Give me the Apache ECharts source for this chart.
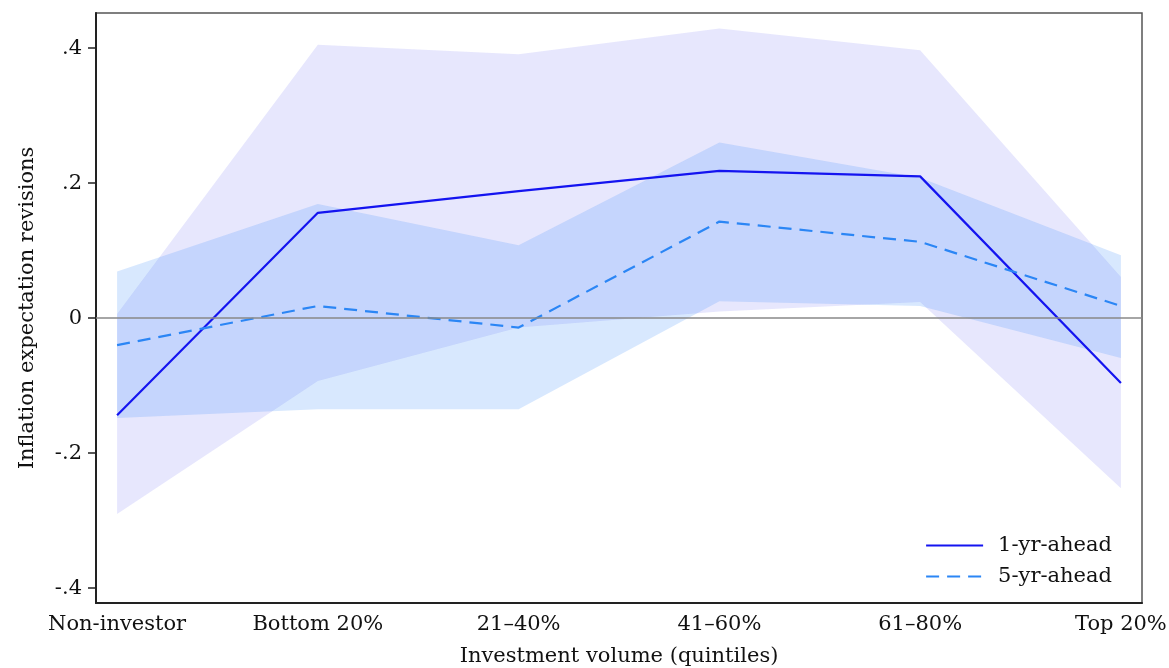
<!DOCTYPE html>
<html>
<head>
<meta charset="utf-8">
<script src="https://cdn.jsdelivr.net/npm/echarts@6/dist/echarts.min.js"></script>
<style>
  html, body { margin: 0; padding: 0; background: #fff; }
  #main { width: 1169px; height: 668px; }
</style>
</head>
<body>
<div id="main"></div>
<script>
// categories on the x axis
var groups = ['Non-investor', 'Bottom 20%', '21\u201340%', '41\u201360%', '61\u201380%', 'Top 20%'];
// point estimates
var oneYr = [-0.144, 0.156, 0.188, 0.218, 0.210, -0.096];
var fiveYr = [-0.040, 0.018, -0.014, 0.143, 0.113, 0.018];
// confidence bands
var oneYrLow = [-0.290, -0.093, -0.014, 0.010, 0.024, -0.252];
var oneYrHigh = [0.006, 0.405, 0.391, 0.429, 0.397, 0.061];
var fiveYrLow = [-0.148, -0.135, -0.135, 0.025, 0.018, -0.059];
var fiveYrHigh = [0.069, 0.169, 0.108, 0.260, 0.208, 0.093];
var yTicks = [-0.4, -0.2, 0, 0.2, 0.4];

var serif = '"DejaVu Serif", "Liberation Serif", serif';

function pts(arr) {
    return arr.map(function (v, i) { return [i, v]; });
}
function bandData(lo, hi) {
    return lo.map(function (v, i) { return [i, v, hi[i]]; });
}
// one polygon for the whole band, drawn on the first item
function bandRenderer(color) {
    return function (params, api) {
        if (params.dataIndex !== 0) return;
        var n = params.dataInsideLength;
        var top = [], bot = [];
        for (var i = 0; i < n; i++) {
            var x = api.value(0, i);
            bot.push(api.coord([x, api.value(1, i)]));
            top.push(api.coord([x, api.value(2, i)]));
        }
        return {
            type: 'polygon',
            shape: { points: top.concat(bot.reverse()) },
            style: { fill: color },
            silent: true
        };
    };
}

var myChart = echarts.init(document.getElementById('main'));

myChart.setOption({
    animation: false,
    grid: {
        left: 96, top: 13, right: 27, bottom: 65,
        outerBoundsMode: 'none',
        show: true, borderColor: '#555', borderWidth: 1.5
    },
    legend: {
        data: ['1-yr-ahead', '5-yr-ahead'],
        orient: 'vertical',
        right: 52, bottom: 76,
        itemWidth: 57, itemHeight: 14, itemGap: 10,
        itemStyle: { opacity: 0 },
        textStyle: { fontFamily: serif, fontSize: 21, color: '#111', padding: [0, 0, 0, 10] }
    },
    xAxis: {
        type: 'value',
        min: -0.105, max: 5.105,
        name: 'Investment volume (quintiles)',
        nameLocation: 'middle', nameGap: 43,
        nameTextStyle: { fontFamily: serif, fontSize: 21, color: '#111' },
        axisLine: { onZero: false, lineStyle: { color: '#222', width: 2 } },
        axisTick: { show: false },
        splitLine: { show: false },
        axisLabel: {
            customValues: [0, 1, 2, 3, 4, 5],
            formatter: function (v) { return groups[Math.round(v)]; },
            fontFamily: serif, fontSize: 21, color: '#111', margin: 11
        }
    },
    yAxis: {
        type: 'value',
        min: -0.422, max: 0.452,
        name: 'Inflation expectation revisions',
        nameLocation: 'middle', nameGap: 58,
        nameTextStyle: { fontFamily: serif, fontSize: 21, color: '#111' },
        axisLine: { show: true, onZero: false, lineStyle: { color: '#222', width: 2 } },
        axisTick: { show: true, length: 8, customValues: yTicks, lineStyle: { color: '#222', width: 1.5 } },
        splitLine: { show: false },
        axisLabel: {
            customValues: yTicks,
            formatter: function (v) {
                if (Math.abs(v) < 1e-9) return '0';
                return (v < 0 ? '-' : '') + Math.abs(v).toFixed(1).replace(/^0/, '');
            },
            fontFamily: serif, fontSize: 21, color: '#111', margin: 14
        }
    },
    series: [
        {
            name: 'band1', type: 'custom', data: bandData(oneYrLow, oneYrHigh),
            renderItem: bandRenderer('rgba(40,40,235,0.11)'), silent: true, z: 1
        },
        {
            name: 'band5', type: 'custom', data: bandData(fiveYrLow, fiveYrHigh),
            renderItem: bandRenderer('rgba(40,130,250,0.18)'), silent: true, z: 1
        },
        {
            name: '1-yr-ahead', type: 'line', data: pts(oneYr), symbol: 'none', z: 3,
            lineStyle: { color: '#1414f0', width: 2.2 }, itemStyle: { color: '#1414f0' },
            markLine: {
                silent: true, symbol: 'none', label: { show: false },
                lineStyle: { color: '#888', width: 1.5, type: 'solid' },
                data: [{ yAxis: 0 }]
            }
        },
        {
            name: '5-yr-ahead', type: 'line', data: pts(fiveYr), symbol: 'none', z: 3,
            lineStyle: { color: '#2b86f5', width: 2.2, type: [13, 8] }, itemStyle: { color: '#2b86f5' }
        }
    ]
});
</script>
</body>
</html>
